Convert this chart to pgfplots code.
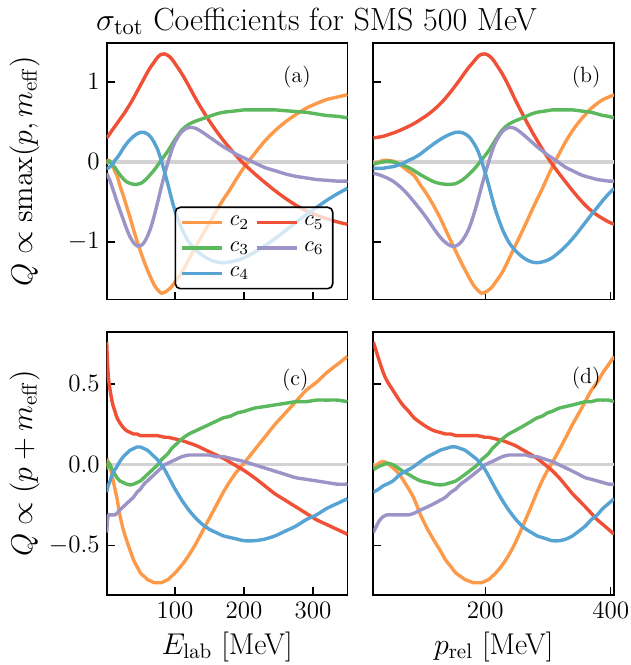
\RequirePackage{fix-cm}
\documentclass[border=0pt]{standalone}
\usepackage{pgfplots}
\pgfplotsset{compat=1.18}
\usepackage{pgfplotstable}

\definecolor{corange}{HTML}{FD9A49}
\definecolor{cgreen}{HTML}{5CB85C}
\definecolor{cblue}{HTML}{56A3D4}
\definecolor{cred}{HTML}{EF5036}
\definecolor{cpurple}{HTML}{9C94C7}
\definecolor{zerogray}{HTML}{D3D3D3}

% Q ~ smax(p, m_eff)
\pgfplotstableread{
E   p      c2     c3     c4     c5      c6
1   21.67  -0.02  -0.03  -0.08   0.30   -0.14
2   30.64   0.00  -0.01  -0.08   0.31   -0.16
3   37.53   0.02   0.00  -0.08   0.32   -0.18
4   43.33   0.02   0.01  -0.07   0.335  -0.20
6   53.08   0.01   0.00  -0.06   0.36   -0.24
8   61.29  -0.02  -0.02  -0.04   0.385  -0.29
10  68.52  -0.06  -0.04  -0.02   0.41   -0.34
13  78.13  -0.12  -0.07   0.02   0.445  -0.42
16  86.67  -0.17  -0.11   0.05   0.48   -0.50
20  96.90  -0.29  -0.16   0.10   0.53   -0.60
25  108.34 -0.42  -0.21   0.17   0.59   -0.72
30  118.68 -0.56  -0.25   0.23   0.655  -0.84
35  128.19 -0.70  -0.27   0.28   0.725  -0.94
40  137.04 -0.85  -0.28   0.32   0.80   -1.01
45  145.35 -0.99  -0.28   0.35   0.88   -1.05
50  153.22 -1.12  -0.27   0.37   0.96   -1.05
55  160.69 -1.24  -0.24   0.37   1.04   -1.01
60  167.84 -1.35  -0.20   0.35   1.12   -0.93
65  174.69 -1.45  -0.15   0.31   1.19   -0.82
70  181.29 -1.54  -0.10   0.24   1.25   -0.67
75  187.65 -1.60  -0.04   0.15   1.31   -0.50
80  193.80 -1.64   0.02   0.02   1.345  -0.32
85  199.77 -1.63   0.08  -0.13   1.35   -0.15
90  205.56 -1.60   0.14  -0.29   1.33    0.00
95  211.19 -1.56   0.21  -0.46   1.29    0.14
100 216.68 -1.50   0.28  -0.61   1.23    0.25
110 227.26 -1.38   0.40  -0.84   1.10    0.38
120 237.36 -1.22   0.47  -1.00   0.95    0.43
130 247.05 -1.06   0.51  -1.10   0.79    0.42
140 256.38 -0.91   0.54  -1.17   0.645   0.37
150 265.38 -0.76   0.57  -1.22   0.51    0.31
160 274.08 -0.61   0.60  -1.25   0.385   0.25
170 282.52 -0.47   0.62  -1.26   0.27    0.19
180 290.71 -0.34   0.63  -1.25   0.165   0.14
190 298.67 -0.20   0.64  -1.23   0.065   0.09
200 306.43 -0.07   0.65  -1.20  -0.025   0.05
215 317.71  0.10   0.65  -1.13  -0.145  -0.01
230 328.61  0.26   0.65  -1.05  -0.255  -0.07
245 339.16  0.39   0.65  -0.96  -0.36   -0.11
260 349.39  0.50   0.64  -0.86  -0.455  -0.15
275 359.32  0.59   0.63  -0.76  -0.54   -0.18
290 369.00  0.67   0.62  -0.66  -0.61   -0.20
305 378.41  0.73   0.60  -0.57  -0.665  -0.22
320 387.61  0.78   0.58  -0.48  -0.71   -0.23
335 396.59  0.81   0.57  -0.40  -0.75   -0.24
350 405.37  0.84   0.55  -0.33  -0.78   -0.24
}\topdata

% Q ~ (p + m_eff)
\pgfplotstableread{
E   p      c2     c3      c4     c5      c6
1   21.67  -0.02  -0.03   -0.17   0.76   -0.42
2   30.64   0.01  -0.01   -0.15   0.65   -0.35
3   37.53   0.02   0.00   -0.13   0.57   -0.32
4   43.33   0.01   0.01   -0.12   0.52   -0.31
6   53.08  -0.02   0.00   -0.10   0.46   -0.31
8   61.29  -0.05  -0.02   -0.07   0.41   -0.31
10  68.52  -0.09  -0.04   -0.05   0.37   -0.31
13  78.13  -0.15  -0.06   -0.03   0.33   -0.31
16  86.67  -0.21  -0.08   -0.01   0.29   -0.30
20  96.90  -0.31  -0.10    0.02   0.26   -0.28
25  108.34 -0.40  -0.11    0.05   0.23   -0.26
30  118.68 -0.47  -0.12    0.07   0.21   -0.24
35  128.19 -0.53  -0.125   0.09   0.20   -0.22
40  137.04 -0.59  -0.12    0.10   0.19   -0.20
45  145.35 -0.63  -0.11    0.11   0.19   -0.17
50  153.22 -0.67  -0.10    0.11   0.18   -0.15
55  160.69 -0.69  -0.08    0.10   0.18   -0.12
60  167.84 -0.71  -0.06    0.09   0.18   -0.10
65  174.69 -0.72  -0.04    0.07   0.18   -0.08
70  181.29 -0.73  -0.02    0.05   0.18   -0.06
75  187.65 -0.73   0.00    0.03   0.18   -0.04
80  193.80 -0.73   0.03    0.00   0.175  -0.02
85  199.77 -0.72   0.05   -0.03   0.17    0.00
90  205.56 -0.71   0.07   -0.07   0.17    0.01
95  211.19 -0.69   0.10   -0.11   0.165   0.02
100 216.68 -0.67   0.12   -0.15   0.16    0.03
110 227.26 -0.62   0.16   -0.22   0.15    0.05
120 237.36 -0.56   0.19   -0.28   0.135   0.06
130 247.05 -0.49   0.21   -0.33   0.12    0.06
140 256.38 -0.41   0.23   -0.37   0.10    0.06
150 265.38 -0.33   0.25   -0.40   0.08    0.06
160 274.08 -0.25   0.27   -0.42   0.06    0.05
170 282.52 -0.17   0.29   -0.44   0.04    0.05
180 290.71 -0.10   0.30   -0.45   0.015   0.04
190 298.67 -0.04   0.32   -0.46  -0.01    0.03
200 306.43  0.01   0.33   -0.47  -0.035   0.02
215 317.71  0.09   0.35   -0.47  -0.08    0.00
230 328.61  0.17   0.36   -0.46  -0.13   -0.02
245 339.16  0.25   0.37   -0.44  -0.18   -0.04
260 349.39  0.32   0.38   -0.41  -0.22   -0.06
275 359.32  0.39   0.39   -0.38  -0.26   -0.08
290 369.00  0.46   0.39   -0.34  -0.30   -0.09
305 378.41  0.51   0.40   -0.31  -0.34   -0.10
320 387.61  0.57   0.40   -0.27  -0.37   -0.11
335 396.59  0.62   0.40   -0.24  -0.40   -0.12
350 405.37  0.67   0.39   -0.21  -0.43   -0.12
}\botdata

\tikzset{plab/.style={font=\fontsize{11}{13}\selectfont}}
\pgfplotsset{
  panel/.style={scale only axis, anchor=north west, width=120.4pt,
    axis line style={line width=0.9pt}, tick style={black, line width=0.7pt},
    tick align=inside, xtick pos=lower, ytick pos=left, major tick length=4pt,
    tick label style={font=\fontsize{12.5}{15}\selectfont},
    every axis plot/.append style={line width=1.7pt, smooth},
    every axis x label/.append style={font=\fontsize{15}{18}\selectfont},
    every axis y label/.style={at={([xshift=-30pt]rel axis cs:0,0.5)}, rotate=90, anchor=south,
      font=\fontsize{15}{18}\selectfont},
  },
  toprow/.style={height=128.4pt, ymin=-1.72, ymax=1.49, ytick={-1,0,1}, xticklabels={}},
  botrow/.style={height=131.6pt, ymin=-0.805, ymax=0.823, ytick={-0.5,0,0.5},
    yticklabel style={/pgf/number format/.cd, fixed, fixed zerofill, precision=1}},
  leftcol/.style={xmin=1, xmax=350, xtick={100,200,300}},
  rightcol/.style={xmin=21.67, xmax=405.37, xtick={200,400}, yticklabels={}},
}

\begin{document}
\begin{tikzpicture}
\useasboundingbox (0,0) rectangle (315.5pt,-332.5pt);
\node[anchor=base, font=\fontsize{16}{18}\selectfont] at (158.25pt,-15pt) {$\sigma_{\mathrm{tot}}$ Coefficients for SMS 500 MeV};

% (a)
\begin{axis}[panel, toprow, leftcol, at={(53.35pt,-21.35pt)},
  ylabel={$Q \propto \mathrm{smax}(p, m_{\mathrm{eff}})$},
  legend columns=2, legend cell align=left,
  legend image code/.code={\draw[#1, line width=1.7pt] (0pt,0pt) -- (20pt,0pt);},
  legend style={at={(0.942,0.039)}, anchor=south east, draw=black, line width=0.8pt,
    rounded corners=2.5pt, fill=white, fill opacity=0.75, text opacity=1, draw opacity=1,
    font=\fontsize{11}{13}\selectfont, column sep=1pt, row sep=2.5pt, inner sep=2.5pt}]
\addplot[zerogray, line width=1.6pt, forget plot] coordinates {(0,0) (500,0)};
\addplot[corange] table[x=E, y=c2] {\topdata}; \addlegendentry{$c_2$}
\addplot[cred] table[x=E, y=c5] {\topdata}; \addlegendentry{$c_5$}
\addplot[cgreen] table[x=E, y=c3] {\topdata}; \addlegendentry{$c_3$}
\addplot[cpurple] table[x=E, y=c6] {\topdata}; \addlegendentry{$c_6$}
\addplot[cblue] table[x=E, y=c4] {\topdata}; \addlegendentry{$c_4$}
\node[plab] at (rel axis cs:0.79,0.868) {(a)};
\end{axis}

% (b)
\begin{axis}[panel, toprow, rightcol, at={(186.65pt,-21.35pt)}]
\addplot[zerogray, line width=1.6pt] coordinates {(0,0) (500,0)};
\addplot[corange] table[x=p, y=c2] {\topdata};
\addplot[cred] table[x=p, y=c5] {\topdata};
\addplot[cgreen] table[x=p, y=c3] {\topdata};
\addplot[cpurple] table[x=p, y=c6] {\topdata};
\addplot[cblue] table[x=p, y=c4] {\topdata};
\node[plab] at (rel axis cs:0.884,0.868) {(b)};
\end{axis}

% (c)
\begin{axis}[panel, botrow, leftcol, at={(53.35pt,-165.85pt)},
  ylabel={$Q \propto (p + m_{\mathrm{eff}})$}, xlabel={$E_{\mathrm{lab}}$ [MeV]}]
\addplot[zerogray, line width=1.6pt] coordinates {(0,0) (500,0)};
\addplot[corange] table[x=E, y=c2] {\botdata};
\addplot[cred] table[x=E, y=c5] {\botdata};
\addplot[cgreen] table[x=E, y=c3] {\botdata};
\addplot[cpurple] table[x=E, y=c6] {\botdata};
\addplot[cblue] table[x=E, y=c4] {\botdata};
\node[plab] at (rel axis cs:0.783,0.817) {(c)};
\end{axis}

% (d)
\begin{axis}[panel, botrow, rightcol, at={(186.65pt,-165.85pt)},
  xlabel={$p_{\mathrm{rel}}$ [MeV]}]
\addplot[zerogray, line width=1.6pt] coordinates {(0,0) (500,0)};
\addplot[corange] table[x=p, y=c2] {\botdata};
\addplot[cred] table[x=p, y=c5] {\botdata};
\addplot[cgreen] table[x=p, y=c3] {\botdata};
\addplot[cpurple] table[x=p, y=c6] {\botdata};
\addplot[cblue] table[x=p, y=c4] {\botdata};
\node[plab] at (rel axis cs:0.884,0.823) {(d)};
\end{axis}
\end{tikzpicture}
\end{document}
